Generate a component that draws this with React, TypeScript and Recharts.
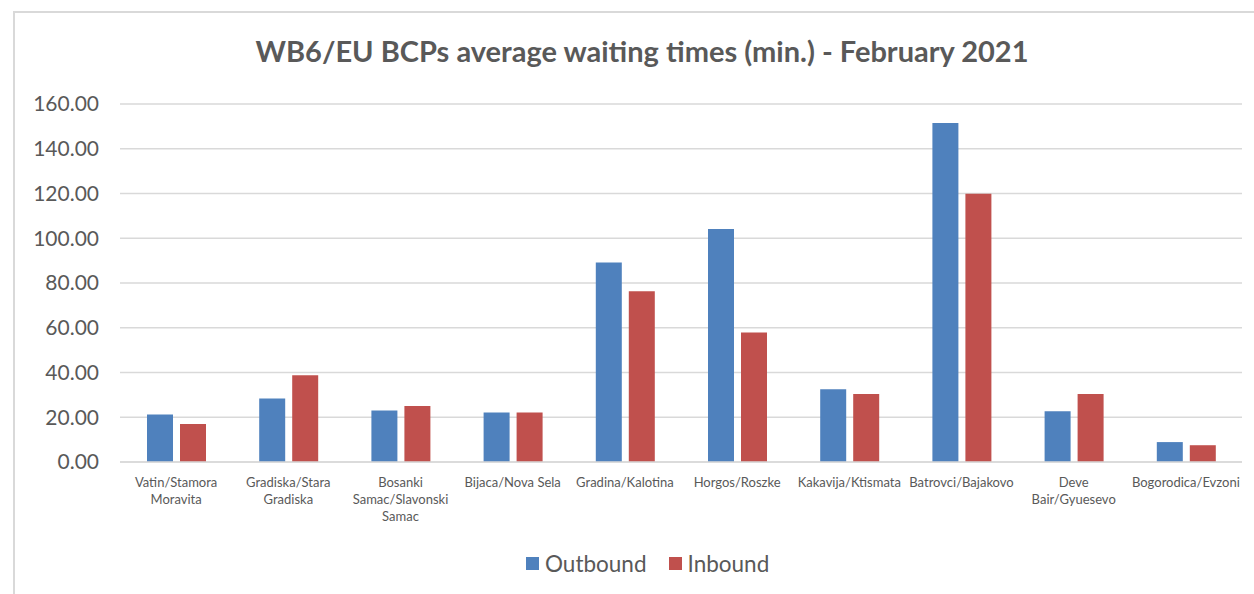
import { BarChart, Bar, XAxis, YAxis, CartesianGrid, Legend } from 'recharts';

const crossings = [
  'Vatin/Stamora Moravita',
  'Gradiska/Stara Gradiska',
  'Bosanki Samac/Slavonski Samac',
  'Bijaca/Nova Sela',
  'Gradina/Kalotina',
  'Horgos/Roszke',
  'Kakavija/Ktismata',
  'Batrovci/Bajakovo',
  'Deve Bair/Gyuesevo',
  'Bogorodica/Evzoni',
];

// how each label wraps under the axis
const labelLines = [
  ['Vatin/Stamora', 'Moravita'],
  ['Gradiska/Stara', 'Gradiska'],
  ['Bosanki', 'Samac/Slavonski', 'Samac'],
  ['Bijaca/Nova Sela'],
  ['Gradina/Kalotina'],
  ['Horgos/Roszke'],
  ['Kakavija/Ktismata'],
  ['Batrovci/Bajakovo'],
  ['Deve', 'Bair/Gyuesevo'],
  ['Bogorodica/Evzoni'],
];

const outbound = [21.2, 28.4, 23.0, 22.1, 89.2, 104.1, 32.5, 151.5, 22.7, 8.9];
const inbound = [17.0, 38.8, 25.0, 22.1, 76.3, 57.9, 30.4, 119.9, 30.4, 7.5];

const yTicks = [0, 20, 40, 60, 80, 100, 120, 140, 160];

const BLUE = '#4F81BD';
const RED = '#C0504D';
const TEXT = '#595959';
const FONT = 'Lato, "Open Sans", sans-serif';

const data = crossings.map((name, i) => ({
  name,
  outbound: outbound[i],
  inbound: inbound[i],
}));

const CrossingTick = ({ x, y, payload, index }: any) => {
  const lines = labelLines[payload?.index ?? index] || [payload.value];
  return (
    <g transform={`translate(${x},${y})`}>
      {lines.map((line: string, i: number) => (
        <text
          key={i}
          x={0}
          y={17 + i * 17}
          textAnchor="middle"
          fill={TEXT}
          fontSize={13}
          fontFamily={FONT}
        >
          {line}
        </text>
      ))}
    </g>
  );
};

const LegendBox = () => (
  <div
    style={{
      width: 1254,
      height: 40,
      display: 'flex',
      alignItems: 'flex-end',
      paddingLeft: 526,
      boxSizing: 'border-box',
      fontFamily: FONT,
      fontSize: 22.5,
      lineHeight: '27px',
      color: TEXT,
    }}
  >
    <div style={{ display: 'flex', position: 'relative', top: 5 }}>
      <span style={{ display: 'flex', alignItems: 'center', marginRight: 22 }}>
        <span style={{ width: 13, height: 13, background: BLUE, marginRight: 6 }} />
        Outbound
      </span>
      <span style={{ display: 'flex', alignItems: 'center' }}>
        <span style={{ width: 13, height: 13, background: RED, marginRight: 6 }} />
        Inbound
      </span>
    </div>
  </div>
);

export default function App() {
  return (
    <div style={{ position: 'absolute', left: 0, top: 0, width: 1254, height: 594, background: '#fff', overflow: 'hidden' }}>
      <div
        style={{
          position: 'absolute',
          left: 13,
          top: 11,
          width: 1260,
          height: 600,
          borderTop: '2px solid #d9d9d9',
          borderLeft: '2px solid #d9d9d9',
        }}
      />
      <div
        style={{
          position: 'absolute',
          left: 0,
          top: 33,
          width: 1284,
          textAlign: 'center',
          fontFamily: FONT,
          fontWeight: 700,
          fontSize: 29,
          color: TEXT,
        }}
      >
        WB6/EU BCPs average waiting times (min.) - February 2021
      </div>
      <div style={{ position: 'absolute', left: 0, top: 0 }}>
        <BarChart
          width={1254}
          height={594}
          data={data}
          margin={{ top: 104, right: 12, bottom: 22, left: 10 }}
          barCategoryGap={27}
          barGap={7}
        >
          <CartesianGrid vertical={false} stroke="#d9d9d9" strokeWidth={1.5} />
          <XAxis
            dataKey="name"
            interval={0}
            height={70}
            tickLine={false}
            axisLine={{ stroke: '#d9d9d9', strokeWidth: 1.5 }}
            tick={<CrossingTick />}
          />
          <YAxis
            width={110}
            domain={[0, 160]}
            ticks={yTicks}
            interval={0}
            axisLine={false}
            tickLine={false}
            tickMargin={15}
            tickFormatter={(v: number) => v.toFixed(2)}
            tick={{ fill: TEXT, fontSize: 21, fontFamily: FONT }}
          />
          <Legend verticalAlign="bottom" content={<LegendBox />} wrapperStyle={{ left: 0, width: 1254 }} />
          <Bar dataKey="outbound" name="Outbound" fill={BLUE} isAnimationActive={false} />
          <Bar dataKey="inbound" name="Inbound" fill={RED} isAnimationActive={false} />
        </BarChart>
      </div>
    </div>
  );
}
